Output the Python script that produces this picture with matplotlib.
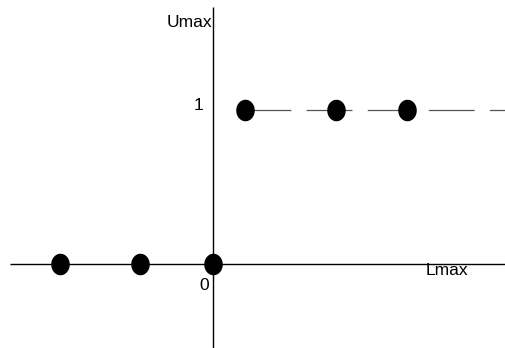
import matplotlib
matplotlib.use('Agg')
import matplotlib.pyplot as plt
import numpy as np

plt.rcParams['font.family'] = ['Liberation Sans', 'DejaVu Sans']
plt.rcParams['lines.scale_dashes'] = False

# data (x in units of ~100 px, y: 0 / 1)
low_x = [-1.53, -0.73, 0.0]
low_y = [0, 0, 0]
high_x = [0.32, 1.23, 1.94]
high_y = [1, 1, 1]
x_range = (-2.13, 2.92)
y_range = (-0.545, 1.714)

fig = plt.figure(figsize=(5.05, 3.48), dpi=100)
ax = fig.add_axes([0, 0, 1, 1])
ax.set_xlim(*x_range)
ax.set_ylim(*y_range)
ax.axis('off')

# axes lines
ax.plot([-2.03, x_range[1]], [0, 0], color='black', lw=1.0, solid_capstyle='butt')
ax.plot([0, 0], [y_range[0], 1.67], color='black', lw=1.0, solid_capstyle='butt')

# dashed line at 1
ax.plot([high_x[0], x_range[1]], [1, 1], color='#555555', lw=0.9,
        dashes=(33, 11))

# slightly tall ellipse marker
t = np.linspace(0, 2 * np.pi, 60)
ell = np.column_stack([0.85 * np.cos(t), np.sin(t)])
ax.plot(low_x, low_y, ls='none', marker=ell, ms=14.5, color='black', zorder=3)
ax.plot(high_x, high_y, ls='none', marker=ell, ms=14.5, color='black', zorder=3)

ax.text(-0.005, 1.57, 'Umax', ha='right', va='center', fontsize=12.5)
ax.text(-0.1, 1.03, '1', ha='right', va='center', fontsize=12.5)
ax.text(-0.035, -0.14, '0', ha='right', va='center', fontsize=12.5)
ax.text(2.34, -0.04, 'Lmax', ha='center', va='center', fontsize=12.5)

fig.savefig('out.png', dpi=100)
